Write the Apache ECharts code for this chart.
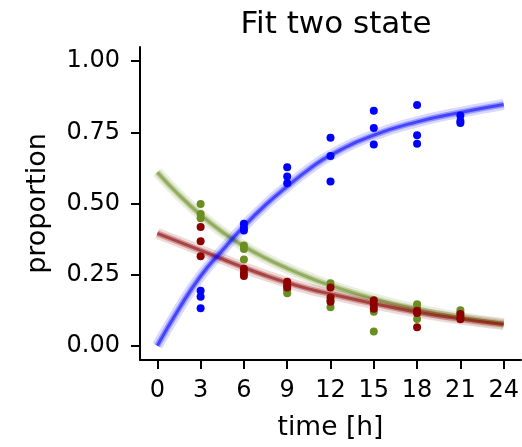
<!DOCTYPE html>
<html>
<head>
<meta charset="utf-8">
<script src="https://cdn.jsdelivr.net/npm/echarts@6/dist/echarts.min.js"></script>
<style>html,body{margin:0;padding:0;background:#fff}#c{width:522px;height:447px}</style>
</head>
<body>
<div id="c"></div>
<script>
// ---- data ----
const xTicks = [0, 3, 6, 9, 12, 15, 18, 21, 24];
const yTicks = [0, 0.25, 0.5, 0.75, 1.0];

const curveTimes = [0, 1.5, 3, 4.5, 6, 7.5, 9, 10.5, 12, 15, 18, 21, 24];
const blueCurve  = [0, 0.13, 0.245, 0.335, 0.42, 0.495, 0.56, 0.62, 0.67, 0.74, 0.787, 0.82, 0.848];
const greenCurve = [0.61, 0.53, 0.46, 0.40, 0.35, 0.308, 0.272, 0.24, 0.212, 0.165, 0.128, 0.10, 0.078];
const redCurve   = [0.395, 0.365, 0.335, 0.305, 0.275, 0.247, 0.222, 0.20, 0.182, 0.148, 0.118, 0.094, 0.075];

const blueTimes  = [3, 3, 3, 6, 6, 6, 9, 9, 9, 12, 12, 12, 15, 15, 15, 18, 18, 18, 21, 21, 21];
const blueValues = [0.193, 0.172, 0.132, 0.429, 0.415, 0.405, 0.627, 0.595, 0.571, 0.731, 0.667, 0.577, 0.826, 0.765, 0.707, 0.846, 0.740, 0.710, 0.809, 0.790, 0.783];

const greenTimes  = [3, 3, 3, 6, 6, 6, 9, 9, 9, 12, 12, 12, 15, 15, 15, 18, 18, 18, 21, 21, 21];
const greenValues = [0.498, 0.463, 0.448, 0.352, 0.340, 0.303, 0.210, 0.195, 0.185, 0.220, 0.160, 0.135, 0.140, 0.120, 0.050, 0.146, 0.135, 0.094, 0.125, 0.115, 0.105];

const redTimes  = [3, 3, 3, 6, 6, 6, 9, 9, 9, 12, 12, 12, 15, 15, 15, 18, 18, 18, 21, 21, 21];
const redValues = [0.417, 0.367, 0.315, 0.271, 0.256, 0.245, 0.225, 0.215, 0.205, 0.205, 0.170, 0.155, 0.160, 0.145, 0.130, 0.123, 0.115, 0.065, 0.112, 0.100, 0.093];

const BLUE = '#0000ff', GREEN = '#6b8e23', RED = '#8b0000';
const FONT = 'DejaVu Sans';

function pairs(xs, ys) { return xs.map((x, i) => [x, ys[i]]); }

function band(name, ys, color, z) {
  return [
    { type: 'line', name: name + '_wide', data: pairs(curveTimes, ys), smooth: true, showSymbol: false, symbol: 'none',
      lineStyle: { color: color, width: 11, opacity: 0.15 }, z: z, silent: true },
    { type: 'line', name: name + '_mid', data: pairs(curveTimes, ys), smooth: true, showSymbol: false, symbol: 'none',
      lineStyle: { color: color, width: 6, opacity: 0.3 }, z: z, silent: true },
    { type: 'line', name: name + '_core', data: pairs(curveTimes, ys), smooth: true, showSymbol: false, symbol: 'none',
      lineStyle: { color: color, width: 3, opacity: 0.55 }, z: z, silent: true }
  ];
}

function scatter(name, xs, ys, color) {
  return { type: 'scatter', name: name, data: pairs(xs, ys), symbolSize: 8,
    itemStyle: { color: color, opacity: 1 }, z: 10 };
}

const chart = echarts.init(document.getElementById('c'), null, { renderer: 'canvas' });
chart.setOption({
  animation: false,
  backgroundColor: '#ffffff',
  title: {
    text: 'Fit two state', left: 331, top: 4, textAlign: 'center',
    textStyle: { fontFamily: FONT, fontSize: 31, fontWeight: 'normal', color: '#000' }
  },
  grid: { left: 140, top: 47, width: 381, height: 315 },
  xAxis: {
    type: 'value', min: -1.2, max: 25.2,
    name: 'time [h]', nameLocation: 'middle', nameGap: 55,
    nameTextStyle: { fontFamily: FONT, fontSize: 26.5, color: '#000' },
    axisLine: { show: true, onZero: false, lineStyle: { color: '#000', width: 2 } },
    axisTick: { show: true, length: 9, lineStyle: { color: '#000', width: 2 }, customValues: xTicks },
    axisLabel: { fontFamily: FONT, fontSize: 24, color: '#000', margin: 19, customValues: xTicks,
      formatter: v => String(v) },
    splitLine: { show: false }
  },
  yAxis: {
    type: 'value', min: -0.05, max: 1.05,
    name: 'proportion', nameLocation: 'middle', nameGap: 89,
    nameTextStyle: { fontFamily: FONT, fontSize: 27, color: '#000' },
    axisLine: { show: true, onZero: false, lineStyle: { color: '#000', width: 2 } },
    axisTick: { show: true, length: 9, lineStyle: { color: '#000', width: 2 }, customValues: yTicks },
    axisLabel: { fontFamily: FONT, fontSize: 24, color: '#000', margin: 20, customValues: yTicks,
      formatter: v => v.toFixed(2) },
    splitLine: { show: false }
  },
  series: [
    ...band('green', greenCurve, GREEN, 2),
    ...band('red', redCurve, RED, 3),
    ...band('blue', blueCurve, BLUE, 4),
    scatter('blue', blueTimes, blueValues, BLUE),
    scatter('green', greenTimes, greenValues, GREEN),
    scatter('red', redTimes, redValues, RED)
  ]
});
</script>
</body>
</html>
